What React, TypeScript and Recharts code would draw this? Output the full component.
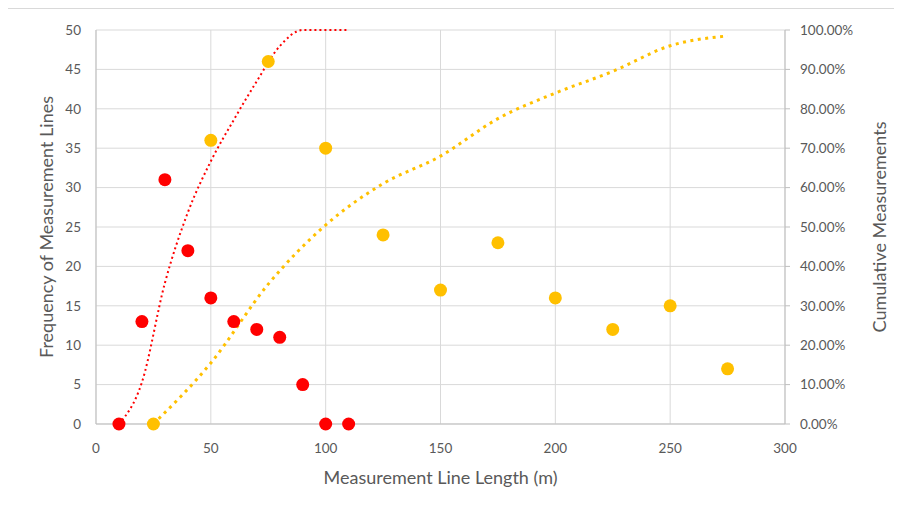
import React from 'react';
import {
  ComposedChart,
  Scatter,
  Line,
  XAxis,
  YAxis,
  CartesianGrid,
} from 'recharts';

// short lines (red) and long lines (yellow): frequency per length bin
const shortLengths = [10, 20, 30, 40, 50, 60, 70, 80, 90, 100, 110];
const shortFreq = [0, 13, 31, 22, 16, 13, 12, 11, 5, 0, 0];
const shortCum = [0, 10.6, 35.8, 53.7, 66.7, 77.2, 87, 95.9, 100, 100, 100];

const longLengths = [25, 50, 75, 100, 125, 150, 175, 200, 225, 250, 275];
const longFreq = [0, 36, 46, 35, 24, 17, 23, 16, 12, 15, 7];
const longCum = [0, 15.5, 35.5, 50.5, 61, 68, 77.5, 84, 89.5, 96, 98.5];

const xTicks = [0, 50, 100, 150, 200, 250, 300];
const freqTicks = [0, 5, 10, 15, 20, 25, 30, 35, 40, 45, 50];
const cumTicks = [0, 10, 20, 30, 40, 50, 60, 70, 80, 90, 100];

const RED = '#FF0000';
const YELLOW = '#FFC000';
const TEXT = '#595959';
const FONT = 'Lato, "Open Sans", sans-serif';

const shortPoints = shortLengths.map((x, i) => ({ x, y: shortFreq[i] }));
const longPoints = longLengths.map((x, i) => ({ x, y: longFreq[i] }));
const shortCurve = shortLengths.map((x, i) => ({ x, cum: shortCum[i] }));
const longCurve = longLengths.map((x, i) => ({ x, cum: longCum[i] }));

const dot = (color: string) => (props: any) => (
  <circle cx={props.cx} cy={props.cy} r={6.5} fill={color} />
);

export default function App() {
  const tick = { fill: TEXT, fontSize: 13.5, fontFamily: FONT };
  return (
    <div
      style={{
        position: 'relative',
        left: -3,
        width: 896,
        height: 498,
        borderTop: '1px solid #d9d9d9',
        borderLeft: '1px solid #d9d9d9',
        background: '#fff',
      }}
    >
      <ComposedChart
        width={896}
        height={498}
        margin={{ top: 21, right: 7, left: 30, bottom: 13 }}
      >
        <CartesianGrid yAxisId="left" stroke="#d9d9d9" />
        <XAxis
          type="number"
          dataKey="x"
          domain={[0, 300]}
          ticks={xTicks}
          allowDataOverflow
          height={70}
          stroke="#bfbfbf"
          tickLine={false}
          tickSize={0}
          tickMargin={19}
          tick={tick}
          label={{
            value: 'Measurement Line Length (m)',
            position: 'insideBottom',
            offset: 10,
            fill: TEXT,
            fontSize: 18,
            fontFamily: FONT,
          }}
        />
        <YAxis
          yAxisId="left"
          dataKey="y"
          domain={[0, 50]}
          ticks={freqTicks}
          width={60}
          stroke="#bfbfbf"
          tickLine={false}
          tickSize={0}
          tickMargin={15}
          tick={tick}
          label={{
            value: 'Frequency of Measurement Lines',
            angle: -90,
            position: 'insideLeft',
            offset: 11,
            fill: TEXT,
            fontSize: 18,
            fontFamily: FONT,
            style: { textAnchor: 'middle' },
          }}
        />
        <YAxis
          yAxisId="right"
          orientation="right"
          dataKey="cum"
          domain={[0, 100]}
          ticks={cumTicks}
          width={110}
          stroke="#bfbfbf"
          tickSize={5}
          tickMargin={10}
          tick={tick}
          tickFormatter={(v: number) => `${v.toFixed(2)}%`}
          label={{
            value: 'Cumulative Measurements',
            angle: -90,
            position: 'insideRight',
            offset: 15,
            fill: TEXT,
            fontSize: 18,
            fontFamily: FONT,
            style: { textAnchor: 'middle' },
          }}
        />
        <Scatter
          yAxisId="left"
          data={longPoints}
          dataKey="y"
          fill={YELLOW}
          shape={dot(YELLOW)}
          isAnimationActive={false}
        />
        <Scatter
          yAxisId="left"
          data={shortPoints}
          dataKey="y"
          fill={RED}
          shape={dot(RED)}
          isAnimationActive={false}
        />
        <Line
          yAxisId="right"
          data={longCurve}
          dataKey="cum"
          type="monotone"
          stroke={YELLOW}
          strokeWidth={3}
          strokeDasharray="3 4.5"
          dot={false}
          activeDot={false}
          isAnimationActive={false}
        />
        <Line
          yAxisId="right"
          data={shortCurve}
          dataKey="cum"
          type="monotone"
          stroke={RED}
          strokeWidth={2}
          strokeDasharray="2 3"
          dot={false}
          activeDot={false}
          isAnimationActive={false}
        />
      </ComposedChart>
    </div>
  );
}
